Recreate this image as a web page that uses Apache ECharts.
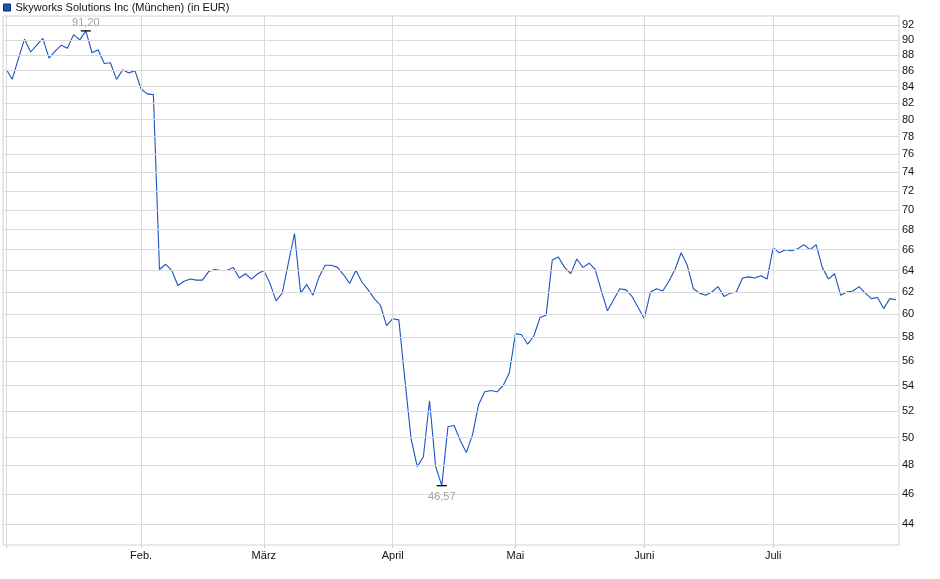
<!DOCTYPE html>
<html><head><meta charset="utf-8">
<style>html,body{margin:0;padding:0;background:#fff}#c{width:940px;height:579px}</style>
<script src="https://cdn.jsdelivr.net/npm/echarts@6.0.0/dist/echarts.min.js"></script>
</head><body><div id="c"></div>
<script>
const seriesName = 'Skyworks Solutions Inc (München) (in EUR)';
const janValues = [86.2,84.9,87.5,90.1,88.4,89.3,90.2,87.6,88.5,89.3,88.9,90.7,90.0,91.2,88.3,88.7,86.9,87.0,84.9,86.1,85.7,86.0];
const febValues = [83.7,83.1,83.0,64.1,64.6,64.0,62.6,63.0,63.2,63.1,63.1,63.9,64.1,64.0,64.0,64.3,63.3,63.7,63.2,63.7];
const marValues = [64.0,62.8,61.2,61.9,64.7,67.6,61.9,62.7,61.7,63.4,64.5,64.5,64.3,63.6,62.8,64.0,62.9,62.2,61.4,60.8,59.0];
const aprValues = [59.6,59.5,54.4,49.9,47.9,48.6,52.8,47.9,46.57,50.8,50.9,49.8,48.9,50.2,52.5,53.5,53.6,53.5,54.0,55.0];
const mayValues = [58.3,58.2,57.4,58.1,59.7,59.9,65.0,65.3,64.3,63.7,65.1,64.3,64.7,64.1,62.1,60.3,61.3,62.3,62.2,61.6,60.6];
const junValues = [59.6,62.0,62.3,62.1,63.0,64.1,65.7,64.5,62.3,61.9,61.7,62.0,62.5,61.6,61.9,62.0,63.3,63.4,63.3,63.5,63.2];
const julValues = [66.2,65.7,66.0,65.9,66.1,66.5,66.0,66.5,64.3,63.2,63.7,61.7,62.0,62.1,62.5,61.9,61.4,61.5,60.5,61.4,61.3];
const values = [].concat(janValues, febValues, marValues, aprValues, mayValues, junValues, julValues);

const firstDay = '2025-01-02';
const holidays = ['2025-04-18','2025-04-21','2025-05-01'];
const monthLabels = {2:'Feb.',3:'März',4:'April',5:'Mai',6:'Juni',7:'Juli'};
const yTicks = [44,46,48,50,52,54,56,58,60,62,64,66,68,70,72,74,76,78,80,82,84,86,88,90,92];

// trading-day categories
const dates = [];
{
  let d = new Date(firstDay + 'T00:00:00Z');
  while (dates.length < values.length) {
    const s = d.toISOString().slice(0,10);
    const wd = d.getUTCDay();
    if (wd !== 0 && wd !== 6 && holidays.indexOf(s) < 0) dates.push(s);
    d = new Date(d.getTime() + 86400000);
  }
}
const monthStarts = [];
dates.forEach((s,i)=>{ if (i === 0 || s.slice(5,7) !== dates[i-1].slice(5,7)) monthStarts.push(i); });
const startSet = new Set(monthStarts);

const lineColor = '#1c53c2';
const gridColor = '#dadada';
const font = 'Liberation Sans, Arial, sans-serif';

const hLines = yTicks.map(v => ({yAxis: v, name: String(v)}));
const vLines = monthStarts.map(i => ({xAxis: i, name: '', label: {show: false}}));

const chart = echarts.init(document.getElementById('c'), null, {renderer: 'canvas'});
chart.setOption({
  animation: false,
  textStyle: {fontFamily: font},
  legend: {
    left: 3, top: 2, padding: 0, itemWidth: 7, itemHeight: 7, icon: 'rect', selectedMode: false,
    data: [{name: seriesName, itemStyle: {color: lineColor, borderColor: '#0b2a66', borderWidth: 1}}],
    textStyle: {fontSize: 11, color: '#111', fontFamily: font}
  },
  grid: {left: 3, right: 41, top: 16, bottom: 34, show: true, borderColor: '#d3d3d3', borderWidth: 1, backgroundColor: 'transparent'},
  xAxis: {
    type: 'category', data: dates, boundaryGap: true,
    axisLine: {show: false},
    axisTick: {show: true, alignWithLabel: true, interval: (i) => startSet.has(i), length: 3, lineStyle: {color: '#cccccc'}},
    axisLabel: {interval: (i) => startSet.has(i) && i > 0, formatter: (v) => monthLabels[+v.slice(5,7)] || '', margin: 5, fontSize: 11, color: '#111', fontFamily: font},
    splitLine: {show: false}
  },
  yAxis: {
    type: 'log', logBase: 10, min: 42.66, max: 93.23,
    axisLabel: {show: false}, axisLine: {show: false}, axisTick: {show: false}, splitLine: {show: false}
  },
  series: [
    {
      name: 'gridlines', type: 'line', data: dates.map(() => null), z: 1, silent: true, symbol: 'none',
      markLine: {
        silent: true, symbol: ['none','none'], animation: false,
        lineStyle: {color: gridColor, width: 1, type: 'solid'},
        label: {show: true, position: 'end', distance: 3, formatter: '{b}', fontSize: 11, color: '#111', fontFamily: font},
        emphasis: {disabled: true},
        data: hLines.concat(vLines)
      }
    },
    {
      name: seriesName, type: 'line', data: values, z: 3, symbol: 'none', showSymbol: false,
      lineStyle: {color: lineColor, width: 1.1}, itemStyle: {color: lineColor},
      markPoint: {
        symbol: 'rect', symbolSize: [10, 1.3], silent: true,
        itemStyle: {color: '#000'},
        label: {show: true, fontSize: 11, color: '#a3a3a3', fontFamily: font, formatter: p => p.value.toFixed(2).replace('.', ',')},
        data: [
          {type: 'max', label: {position: 'top', distance: 2}},
          {type: 'min', label: {position: 'bottom', distance: 5}}
        ]
      }
    }
  ]
});
</script>
</body></html>
